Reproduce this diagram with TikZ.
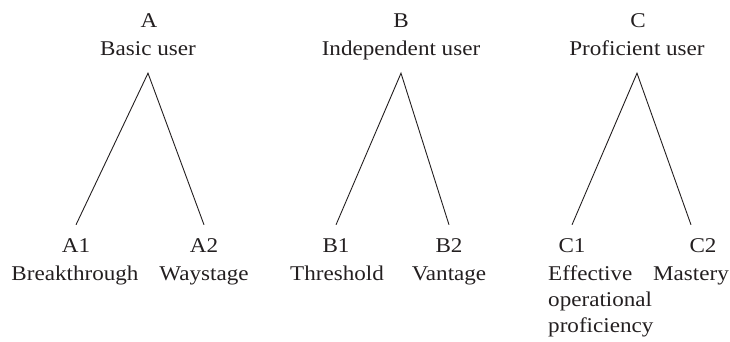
\documentclass[tikz,border=0pt]{standalone}
\usepackage{fontspec}
\setmainfont{Liberation Serif}[FakeStretch=1.1]
\definecolor{ink}{HTML}{231F20}
\begin{document}
\begin{tikzpicture}[x=1pt,y=-1pt,
  lbl/.style={inner sep=0pt,anchor=base,text height=15pt,text depth=5pt,text=ink,
    font=\fontsize{21}{27}\selectfont},
  desc/.style={inner sep=0pt,anchor=base,text=ink,font=\fontsize{21}{26}\selectfont},
  branch/.style={draw=ink,line width=0.9pt}]
\useasboundingbox (0,0) rectangle (730,342);
% top level
\node[lbl] (A) at (149,28) {A};
\node[lbl] (An) at (148,56) {Basic user};
\node[lbl] (B) at (401,28) {B};
\node[lbl] (Bn) at (401,56) {Independent user};
\node[lbl] (C) at (638,28) {C};
\node[lbl] (Cn) at (637,56) {Proficient user};
% leaves
\node[lbl] (A1) at (76,252) {A1};
\node[lbl] (A2) at (204,252) {A2};
\node[lbl] (B1) at (336,252) {B1};
\node[lbl] (B2) at (449,252) {B2};
\node[lbl] (C1) at (572,252) {C1};
\node[lbl] (C2) at (703,252) {C2};
\node[desc] (A1n) at (75,280) {Breakthrough};
\node[desc] (A2n) at (204,280) {Waystage};
\node[desc] (B1n) at (337,280) {Threshold};
\node[desc] (B2n) at (449,280) {Vantage};
\node[desc,anchor=base west,align=left] (C1n) at (548,332) {Effective\\operational\\proficiency};
\node[desc] (C2n) at (691,280) {Mastery};
% branches
\draw[branch] ([yshift=12pt]A1.north) -- ([yshift=-12pt]An.south) -- ([yshift=12pt]A2.north);
\draw[branch] ([yshift=12pt]B1.north) -- ([yshift=-12pt]Bn.south) -- ([yshift=12pt]B2.north);
\draw[branch] ([yshift=12pt]C1.north) -- ([yshift=-12pt]Cn.south) -- ([xshift=-12pt,yshift=12pt]C2.north);
\end{tikzpicture}
\end{document}
